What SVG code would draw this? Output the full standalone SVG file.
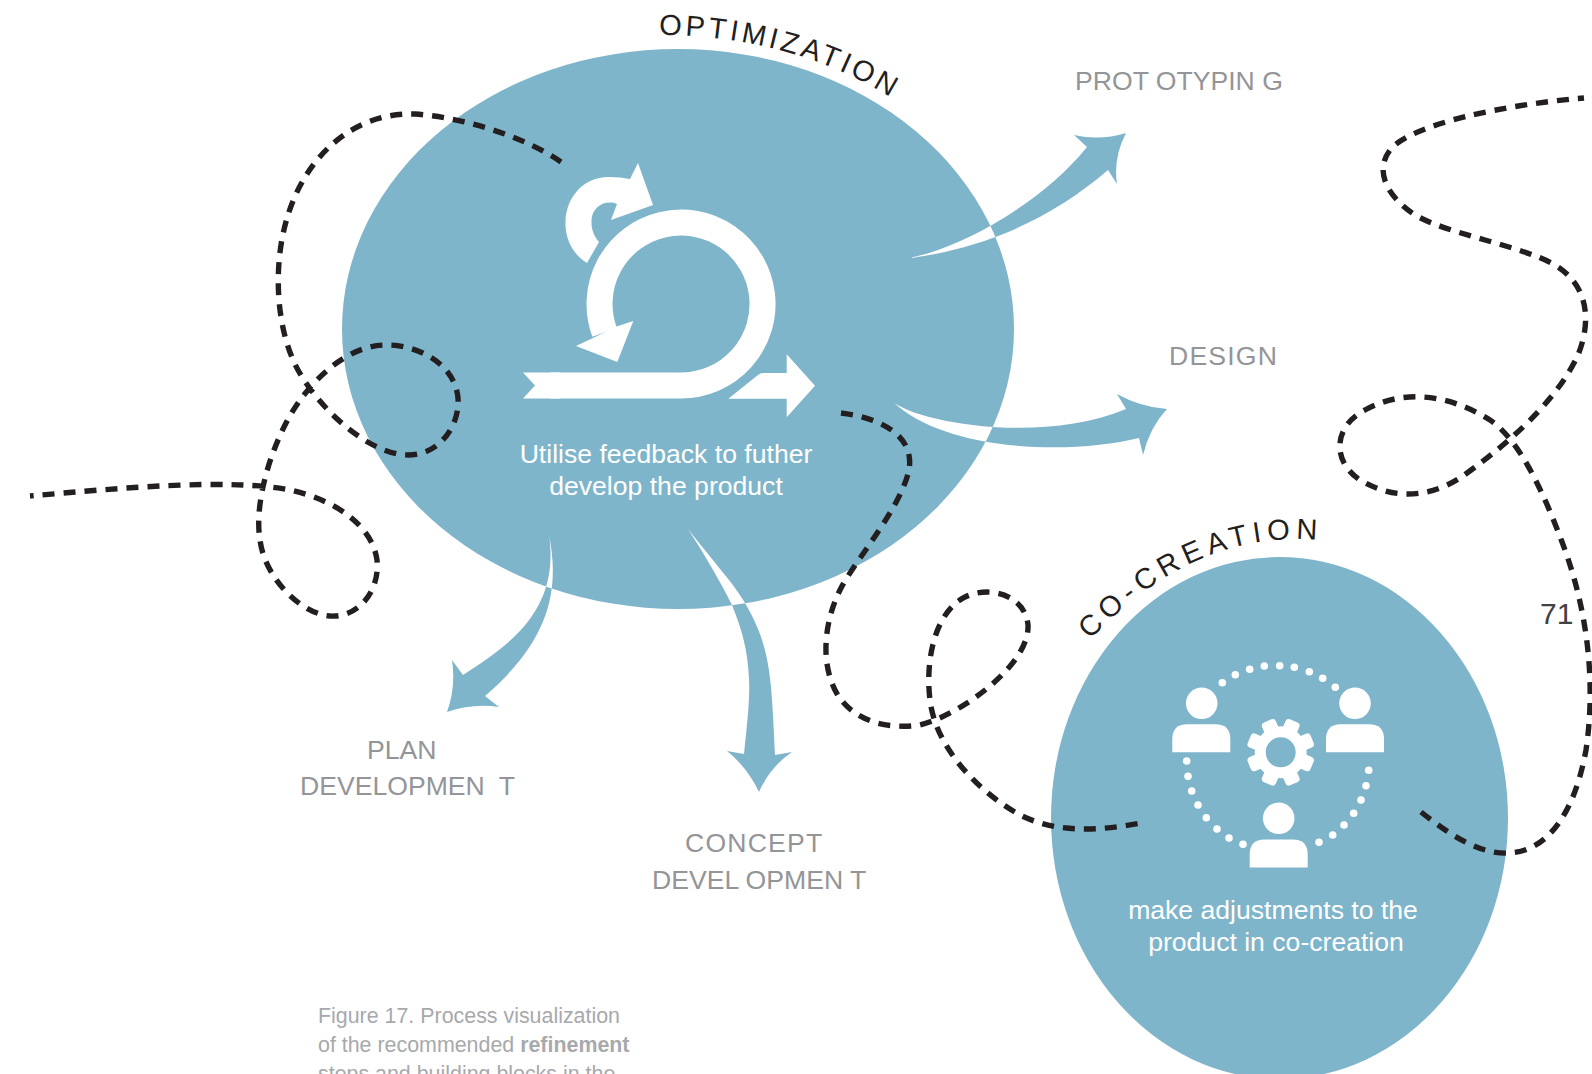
<svg xmlns="http://www.w3.org/2000/svg" xmlns:xlink="http://www.w3.org/1999/xlink" width="1592" height="1074" viewBox="0 0 1592 1074">
<style>
text{font-family:"Liberation Sans",Arial,sans-serif}
.blob{fill:#7fb5ca}
.w{fill:#fff}
.lab{fill:#939598;font-size:26.6px}
.tw{fill:#fff;font-size:26.6px;text-anchor:middle}
.cap{fill:#a7a9ac;font-size:21.4px}
.arc{fill:#231f20;font-size:29px}
.dash{fill:none;stroke:#231f20;stroke-width:5.4;stroke-dasharray:12 9}
.dot{fill:#fff;r:3.8px}
</style>
<defs>
<clipPath id="inOpt"><ellipse cx="678" cy="329" rx="336" ry="280"/></clipPath>
<path id="a1" d="M909,258 C960,248 1040,205 1087,147 L1074,135 Q1100,141 1126,133 Q1113,158 1117,184 L1108,170 C1050,220 980,250 909,258Z"/>
<path id="a2" d="M892,401 C915,422 1040,445 1126,409 L1117,394 Q1140,407 1167,409 Q1150,427 1143,455 L1139,438 C1070,455 945,452 892,401Z"/>
<path id="a3" d="M549,535 C560,590 550,640 485,696 L499,707 Q473,703 447,712 Q456,687 452,660 L463,675 C510,645 560,610 549,535Z"/>
<path id="a4" d="M688,529 C712,560 735,585 745,603 C762,632 768,655 771,687 C773,710 774,735 775,755 L792,752 Q770,767 759,792 Q747,767 727,751 L744,754 C747,725 750,700 749,680 C748,650 742,630 732,605 C722,585 705,555 688,529Z"/>
<path id="person" d="M0,28 V15 Q0,0 15,0 H43 Q58,0 58,15 V28Z"/>
<rect id="tooth" x="-7.5" y="-34" width="15" height="14" rx="3.5"/>
<path id="pOpt" d="M659,35 Q786,35 887,95 L905,107"/>
<path id="pCo" d="M1090,640 Q1193,530 1318,540 L1350,544"/>
</defs>

<g id="optimization">
<ellipse class="blob" cx="678" cy="329" rx="336" ry="280"/>
<text class="arc" letter-spacing="3.5"><textPath href="#pOpt">OPTIMIZATION</textPath></text>
<g id="scrum-icon">
<path class="w" d="M523,372.5 L535,385.5 L523,398.5 H560 V372.5Z"/>
<path d="M550,385.5 H681 A81.5,81.5 0 1 0 604.6,332.3" fill="none" stroke="#fff" stroke-width="26"/>
<path class="w" d="M633.3,321 L617.3,362 L576,346 L593,338 L615,327Z"/>
<path class="w" d="M728.3,398.7 L758,375 Q760,373 763,373 H786.7 V354.3 L815,385.7 L786.7,417.3 V398.7Z"/>
<path class="w" d="M587,263 C572,254 565,238 565.5,222 C566,196 585,176 610,177 Q620,177 630,179 L638,163 L653,205 L611,220 L617,204 C604,199 592,208 591.5,220 C591,229 594,236 599,242Z"/>
</g>
<text class="tw" x="666" y="463">Utilise feedback to futher</text>
<text class="tw" x="666" y="495">develop the product</text>
</g>

<g id="co-creation">
<ellipse class="blob" cx="1279.5" cy="818" rx="228.5" ry="261"/>
<text class="arc" letter-spacing="5.6"><textPath href="#pCo">CO-CREATION</textPath></text>
<g id="team-icon">
<circle class="w" cx="1201.7" cy="703.3" r="15.8"/><use href="#person" class="w" x="1172.3" y="724.3"/>
<circle class="w" cx="1355" cy="703.3" r="15.8"/><use href="#person" class="w" x="1326" y="724.3"/>
<circle class="w" cx="1278.7" cy="818.3" r="15.8"/><use href="#person" class="w" x="1249.7" y="839.5"/>
<g class="w" transform="translate(1280.7,752.3)">
<circle r="20.5" fill="none" stroke="#fff" stroke-width="11"/>
<use href="#tooth" transform="rotate(22.5)"/><use href="#tooth" transform="rotate(67.5)"/><use href="#tooth" transform="rotate(112.5)"/><use href="#tooth" transform="rotate(157.5)"/><use href="#tooth" transform="rotate(202.5)"/><use href="#tooth" transform="rotate(247.5)"/><use href="#tooth" transform="rotate(292.5)"/><use href="#tooth" transform="rotate(337.5)"/>
</g>
<g>
<circle class="dot" cx="1222.3" cy="682.7"/><circle class="dot" cx="1235.3" cy="674.7"/><circle class="dot" cx="1249.7" cy="669.3"/><circle class="dot" cx="1264.3" cy="666"/><circle class="dot" cx="1279.7" cy="665.7"/><circle class="dot" cx="1294.3" cy="667.3"/><circle class="dot" cx="1309.3" cy="671.7"/><circle class="dot" cx="1322.7" cy="678.3"/><circle class="dot" cx="1335.3" cy="687.3"/>
<circle class="dot" cx="1186.7" cy="761"/><circle class="dot" cx="1188" cy="776.3"/><circle class="dot" cx="1191.7" cy="791"/><circle class="dot" cx="1198" cy="805"/><circle class="dot" cx="1206.3" cy="817.7"/><circle class="dot" cx="1217" cy="829"/><circle class="dot" cx="1229" cy="838"/><circle class="dot" cx="1243" cy="844.3"/>
<circle class="dot" cx="1368.7" cy="770.3"/><circle class="dot" cx="1366" cy="785.7"/><circle class="dot" cx="1361" cy="800"/><circle class="dot" cx="1353.7" cy="813.3"/><circle class="dot" cx="1344" cy="825"/><circle class="dot" cx="1332.7" cy="835"/><circle class="dot" cx="1319" cy="842.3"/>
</g>
</g>
<text class="tw" x="1273" y="919">make adjustments to the</text>
<text class="tw" x="1276" y="951">product in co-creation</text>
</g>

<g id="connectors">
<use href="#a1" class="blob"/><use href="#a2" class="blob"/><use href="#a3" class="blob"/><use href="#a4" class="blob"/>
<g clip-path="url(#inOpt)" class="w"><use href="#a1"/><use href="#a2"/><use href="#a3"/><use href="#a4"/></g>
<path class="dash" d="M561,162 C530,140 470,118 415,114 C350,112 305,160 288,215 C272,265 276,330 298,370 C320,410 370,455 408,455 C440,455 460,425 458,398 C455,365 420,345 386,345 C345,345 305,385 285,425 C265,465 255,510 260,540 C265,580 305,618 335,616 C360,615 380,590 377,560 C372,525 335,500 290,490 C230,478 120,488 30,496"/>
<path class="dash" d="M841,413 C880,418 915,435 909,470 C900,510 855,560 840,590 C825,620 820,660 835,690 C850,720 885,730 920,725 C960,715 1030,665 1028,625 C1025,595 990,585 965,597 C935,612 925,660 930,700 C935,745 975,790 1020,815 C1060,835 1105,830 1146,822"/>
<path class="dash" d="M1421,812 C1450,835 1480,855 1510,853 C1550,850 1575,810 1586,750 C1595,690 1590,620 1565,550 C1545,495 1520,440 1490,420 C1450,395 1405,388 1365,410 C1335,425 1330,460 1360,480 C1390,498 1425,500 1460,478 C1500,450 1555,405 1578,355 C1592,320 1588,285 1555,265 C1520,245 1450,235 1415,215 C1385,195 1375,170 1390,150 C1410,125 1500,105 1584,98"/>
</g>

<g id="labels">
<text class="lab" x="1075" y="90">PROT OTYPIN G</text>
<text class="lab" x="1169" y="365" letter-spacing="1.2">DESIGN</text>
<text class="lab" x="367" y="759">PLAN</text>
<text class="lab" x="300" y="795">DEVELOPMEN <tspan dx="7">T</tspan></text>
<text class="lab" x="685" y="852" letter-spacing="1.2">CONCEPT</text>
<text class="lab" x="652" y="889">DEVEL OPMEN T</text>
<text x="1540" y="624" fill="#414042" font-size="30">71</text>
</g>
<g id="caption">
<text class="cap" x="318" y="1023">Figure 17. Process visualization</text>
<text class="cap" x="318" y="1052">of the recommended <tspan font-weight="bold">refinement</tspan></text>
<text class="cap" x="318" y="1081">steps and building blocks in the</text>
</g>
</svg>
